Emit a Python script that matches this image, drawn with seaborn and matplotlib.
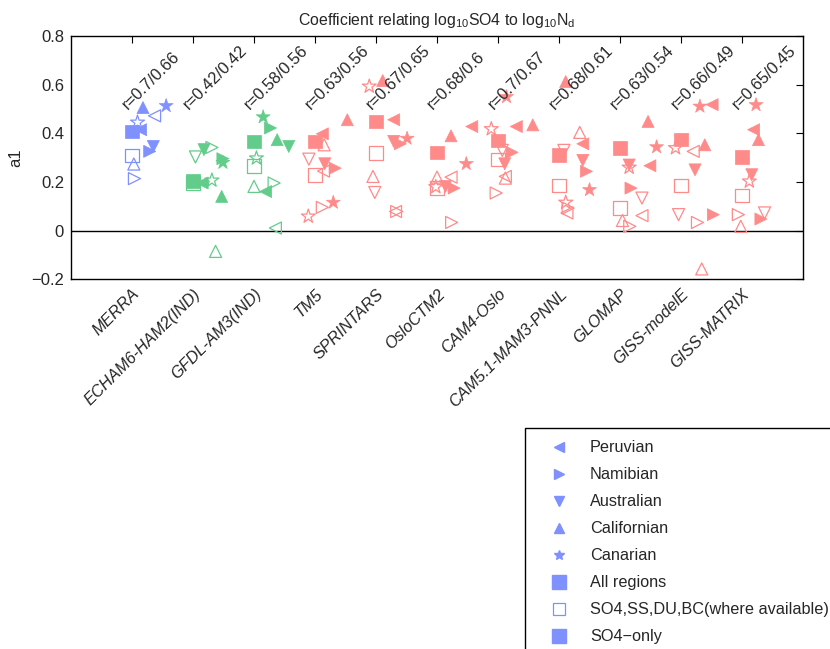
import matplotlib
matplotlib.use("Agg")
import numpy as np
import pandas as pd
import seaborn as sns
import matplotlib.pyplot as plt
import matplotlib.transforms as mtransforms
from matplotlib.lines import Line2D

nan = np.nan

# ---------------- data ----------------
models = ["MERRA", "ECHAM6-HAM2(IND)", "GFDL-AM3(IND)", "TM5", "SPRINTARS",
          "OsloCTM2", "CAM4-Oslo", "CAM5.1-MAM3-PNNL", "GLOMAP",
          "GISS-modelE", "GISS-MATRIX"]
model_group = ["reanalysis", "IND", "IND"] + ["model"] * 8
r_labels = ["r=0.7/0.66", "r=0.42/0.42", "r=0.58/0.56", "r=0.63/0.56",
            "r=0.67/0.65", "r=0.68/0.6", "r=0.7/0.67", "r=0.68/0.61",
            "r=0.63/0.54", "r=0.66/0.49", "r=0.65/0.45"]

# All regions
all_so4 = [0.408, 0.205, 0.367, 0.367, 0.449, 0.322, 0.371, 0.312, 0.340, 0.374, 0.303]
all_multi = [0.309, 0.197, 0.267, 0.230, 0.319, 0.175, 0.292, 0.185, 0.093, 0.185, 0.144]
all_dx = [0.0] * 11

# Peruvian
peru_so4 = [0.415, 0.196, 0.161, 0.398, 0.456, 0.428, 0.428, 0.357, 0.267, 0.518, 0.415]
peru_so4_dx = [0.14, 0.15, 0.19, 0.12, 0.29, 0.57, 0.30, 0.39, 0.49, 0.51, 0.19]
peru_multi = [0.472, nan, 0.011, 0.245, 0.079, 0.220, 0.223, 0.073, 0.062, 0.326, nan]
peru_multi_dx = [0.37, 0.0, 0.35, 0.14, 0.32, 0.23, 0.12, 0.13, 0.36, 0.20, 0.0]

# Namibian
nami_so4 = [0.326, 0.296, 0.422, 0.257, 0.357, 0.175, 0.322, 0.244, 0.175, 0.066, 0.048]
nami_so4_dx = [0.29, 0.49, 0.27, 0.33, 0.40, 0.28, 0.23, 0.45, 0.18, 0.53, 0.31]
nami_multi = [0.214, 0.342, 0.196, 0.096, 0.079, 0.034, 0.155, 0.093, 0.018, 0.034, 0.066]
nami_multi_dx = [0.04, 0.31, 0.33, 0.12, 0.34, 0.24, -0.03, 0.15, 0.16, 0.27, -0.06]

# Australian
aus_so4 = [0.346, 0.333, 0.346, 0.275, 0.367, 0.182, 0.275, 0.289, 0.270, 0.250, 0.230]
aus_so4_dx = [0.35, 0.18, 0.57, 0.16, 0.29, 0.14, 0.11, 0.39, 0.15, 0.23, 0.16]
aus_multi = [nan, 0.303, nan, 0.294, 0.157, nan, 0.330, 0.330, 0.134, 0.066, 0.073]
aus_multi_dx = [0.0, 0.04, 0.0, -0.10, -0.02, 0.0, 0.07, 0.08, 0.36, -0.04, 0.37]

# Californian
cal_so4 = [0.506, 0.141, 0.374, 0.456, 0.617, 0.390, 0.435, 0.613, 0.449, 0.353, 0.374]
cal_so4_dx = [0.18, 0.47, 0.38, 0.53, 0.11, 0.23, 0.57, 0.11, 0.46, 0.39, 0.27]
cal_multi = [0.274, -0.085, 0.182, 0.353, 0.223, 0.220, 0.216, 0.404, 0.042, -0.157, 0.018]
cal_multi_dx = [0.03, 0.37, 0.0, 0.15, -0.05, 0.0, 0.12, 0.34, 0.04, 0.34, -0.02]

# Canarian
can_so4 = [0.513, 0.280, 0.467, 0.116, 0.379, 0.275, 0.550, 0.168, 0.344, 0.511, 0.517]
can_so4_dx = [0.56, 0.49, 0.15, 0.30, 0.51, 0.48, 0.14, 0.50, 0.60, 0.31, 0.23]
can_multi = [0.445, 0.207, 0.298, 0.059, 0.593, 0.180, 0.418, 0.116, 0.260, 0.340, 0.203]
can_multi_dx = [0.09, 0.31, 0.04, -0.11, -0.11, -0.02, -0.11, 0.11, 0.15, -0.09, 0.12]

legend_labels = ["Peruvian", "Namibian", "Australian", "Californian", "Canarian",
                 "All regions", "SO4,SS,DU,BC(where available)", "SO4\u2212only"]

# ---------------- style ----------------
sns.set_style("white")
plt.rcParams["font.family"] = ["Liberation Sans", "DejaVu Sans"]
plt.rcParams["mathtext.fontset"] = "custom"
plt.rcParams["mathtext.rm"] = "Liberation Sans"
plt.rcParams["mathtext.it"] = "Liberation Sans:italic"

palette = {"reanalysis": "#7f90ff", "IND": "#62cc8a", "model": "#ff8a8a"}

series = [
    ("All", "s", 95, all_so4, all_dx, all_multi, all_dx),
    ("Peruvian", "<", 75, peru_so4, peru_so4_dx, peru_multi, peru_multi_dx),
    ("Namibian", ">", 75, nami_so4, nami_so4_dx, nami_multi, nami_multi_dx),
    ("Australian", "v", 75, aus_so4, aus_so4_dx, aus_multi, aus_multi_dx),
    ("Californian", "^", 75, cal_so4, cal_so4_dx, cal_multi, cal_multi_dx),
    ("Canarian", "*", 110, can_so4, can_so4_dx, can_multi, can_multi_dx),
]

fig = plt.figure(figsize=(8.30, 6.49), dpi=100)
ax = fig.add_axes([71 / 830, 1 - 279.4 / 649, (803 - 71) / 830, (279.4 - 36) / 649])

idx = np.arange(1, len(models) + 1)
for name, mk, size, v_so4, dx_so4, v_multi, dx_multi in series:
    for kind, vals, dxs in (("multi", v_multi, dx_multi), ("so4", v_so4, dx_so4)):
        df = pd.DataFrame({"x": idx + np.array(dxs), "y": vals, "group": model_group}).dropna()
        sns.scatterplot(data=df, x="x", y="y", hue="group", palette=palette,
                        marker=mk, s=size, legend=False, ax=ax,
                        linewidth=0.5, zorder=3)
        coll = ax.collections[-1]
        fc = coll.get_facecolors()
        coll.set_edgecolors(fc)
        if kind == "multi":
            coll.set_facecolors("none")
            coll.set_linewidth(0.9)

ax.axhline(0, color="black", lw=1.0, zorder=2)

for i, lab in enumerate(r_labels):
    ax.text(idx[i] - 0.07, 0.495, lab, rotation=45, rotation_mode="anchor",
            ha="left", va="baseline", fontsize=11.8, zorder=5)

ax.set_xlim(0, 12)
ax.set_ylim(-0.2, 0.8)
ax.set_xticks(idx)
ax.set_xticklabels(models, rotation=45, ha="right", rotation_mode="anchor",
                   fontsize=11.7, style="italic")
shift = mtransforms.ScaledTranslation(5 / 100, 0, fig.dpi_scale_trans)
for t in ax.get_xticklabels():
    t.set_transform(t.get_transform() + shift)
ax.set_yticks([-0.2, 0, 0.2, 0.4, 0.6, 0.8])
ax.set_yticklabels(["\u22120.2", "0", "0.2", "0.4", "0.6", "0.8"], fontsize=12)
ax.tick_params(direction="in", top=True, right=True, length=5, width=0.8,
               color="black")
ax.tick_params(axis="y", pad=5)
ax.tick_params(axis="x", pad=5)
ax.set_xlabel("")
ax.set_ylabel("a1", fontsize=12, labelpad=6)
for sp in ax.spines.values():
    sp.set_color("black")
    sp.set_linewidth(1.0)
ax.set_title(r"Coefficient relating log$_{10}$SO4 to log$_{10}$N$_\mathrm{d}$",
             fontsize=11.4, pad=8)

blue = palette["reanalysis"]
handles = [
    Line2D([], [], ls="none", marker="<", color=blue, ms=7, mec=blue),
    Line2D([], [], ls="none", marker=">", color=blue, ms=7, mec=blue),
    Line2D([], [], ls="none", marker="v", color=blue, ms=7, mec=blue),
    Line2D([], [], ls="none", marker="^", color=blue, ms=7, mec=blue),
    Line2D([], [], ls="none", marker="*", color=blue, ms=7, mec=blue),
    Line2D([], [], ls="none", marker="s", color=blue, ms=9.5, mec=blue),
    Line2D([], [], ls="none", marker="s", mfc="none", mec=blue, ms=9, mew=0.9),
    Line2D([], [], ls="none", marker="s", color=blue, ms=9.5, mec=blue),
]
leg = fig.legend(handles, legend_labels, loc="upper left",
                 bbox_to_anchor=(525 / 830, 1 - 428 / 649), borderaxespad=0,
                 fontsize=11.7, frameon=True, fancybox=False, framealpha=1,
                 edgecolor="black", borderpad=0.75, handlelength=2.7,
                 handletextpad=0.54, labelspacing=0.74)
leg.get_frame().set_linewidth(1.0)

fig.savefig("out.png", dpi=100)
